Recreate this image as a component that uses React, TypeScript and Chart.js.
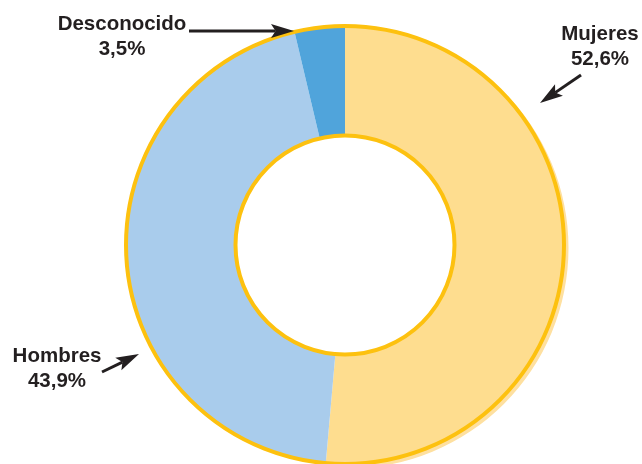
import React, { useEffect, useRef } from 'react';
import { Chart, registerables } from 'chart.js';

Chart.register(...registerables);

const categories = ['Mujeres', 'Hombres', 'Desconocido'];
// slice sizes as drawn in the picture (labels give the printed percentages)
const values = [51.4, 44.9, 3.7];
const valueLabels = ['52,6%', '43,9%', '3,5%'];
const sliceColors = ['#FEDD8F', '#A9CCEC', '#50A4DB'];
const ringColor = '#FDC10F';
const shadowColor = '#FEE0A0';
const textColor = '#231F20';

// label annotation placement: [centerX, baseline line1, baseline line2]
const labelPos = [
  [600, 40, 65],
  [57, 362, 387],
  [122, 30, 55],
];
// arrows: [fromX, fromY, toX, toY]
const arrowPos = [
  [581, 75, 540, 103],
  [102, 372, 139, 354],
  [189, 31, 294, 31],
];

function drawArrow(ctx: CanvasRenderingContext2D, x1: number, y1: number, x2: number, y2: number) {
  const ang = Math.atan2(y2 - y1, x2 - x1);
  const len = 23;
  const hw = 7;
  const bx = x2 - Math.cos(ang) * len;
  const by = y2 - Math.sin(ang) * len;
  const nx = x2 - Math.cos(ang) * len * 0.8;
  const ny = y2 - Math.sin(ang) * len * 0.8;
  ctx.save();
  ctx.strokeStyle = textColor;
  ctx.fillStyle = textColor;
  ctx.lineWidth = 3;
  ctx.beginPath();
  ctx.moveTo(x1, y1);
  ctx.lineTo(nx, ny);
  ctx.stroke();
  ctx.beginPath();
  ctx.moveTo(x2, y2);
  ctx.lineTo(bx - Math.sin(ang) * hw, by + Math.cos(ang) * hw);
  ctx.lineTo(nx, ny);
  ctx.lineTo(bx + Math.sin(ang) * hw, by - Math.cos(ang) * hw);
  ctx.closePath();
  ctx.fill();
  ctx.restore();
}

const ringPlugin = {
  id: 'ringDecor',
  beforeDatasetsDraw(chart: any) {
    const ctx: CanvasRenderingContext2D = chart.ctx;
    const meta = chart.getDatasetMeta(0);
    const a = meta.data[0];
    if (!a) return;
    const p = a.getProps(['x', 'y', 'startAngle', 'endAngle', 'outerRadius'], true);
    ctx.save();
    ctx.fillStyle = shadowColor;
    ctx.beginPath();
    ctx.arc(p.x + 3, p.y + 3, p.outerRadius + 1.5, p.startAngle, p.endAngle);
    ctx.arc(p.x + 3, p.y + 3, p.outerRadius - 12, p.endAngle, p.startAngle, true);
    ctx.closePath();
    ctx.fill();
    ctx.restore();
  },
  afterDatasetsDraw(chart: any) {
    const ctx: CanvasRenderingContext2D = chart.ctx;
    const meta = chart.getDatasetMeta(0);
    const a = meta.data[0];
    if (!a) return;
    const p = a.getProps(['x', 'y', 'outerRadius', 'innerRadius'], true);
    ctx.save();
    ctx.strokeStyle = ringColor;
    ctx.lineWidth = 4;
    ctx.beginPath();
    ctx.arc(p.x, p.y, p.outerRadius, 0, Math.PI * 2);
    ctx.stroke();
    ctx.beginPath();
    ctx.arc(p.x, p.y, p.innerRadius, 0, Math.PI * 2);
    ctx.stroke();
    ctx.restore();
  },
  afterDraw(chart: any) {
    const ctx: CanvasRenderingContext2D = chart.ctx;
    ctx.save();
    ctx.fillStyle = textColor;
    ctx.font = 'bold 20.5px "Liberation Sans", Arial, sans-serif';
    ctx.textAlign = 'center';
    ctx.textBaseline = 'alphabetic';
    categories.forEach((c, i) => {
      const [cx, b1, b2] = labelPos[i];
      ctx.fillText(c, cx, b1);
      ctx.fillText(valueLabels[i], cx, b2);
    });
    ctx.restore();
    arrowPos.forEach(([x1, y1, x2, y2]) => drawArrow(ctx, x1, y1, x2, y2));
  },
};

export default function App() {
  const ref = useRef<HTMLCanvasElement>(null);
  useEffect(() => {
    if (!ref.current) return;
    const chart = new Chart(ref.current, {
      type: 'doughnut',
      data: {
        labels: categories,
        datasets: [
          {
            data: values,
            backgroundColor: sliceColors,
            borderWidth: 0,
          },
        ],
      },
      options: {
        responsive: false,
        animation: false,
        cutout: '50%',
        layout: { padding: { left: 126, right: 78, top: 26, bottom: 0 } },
        plugins: {
          legend: { display: false },
          tooltip: { enabled: false },
        },
      },
      plugins: [ringPlugin],
    });
    return () => chart.destroy();
  }, []);
  return (
    <div style={{ position: 'fixed', left: 0, top: 0, width: 642, height: 464, background: '#fff' }}>
      <canvas ref={ref} width={642} height={464} style={{ display: 'block' }} />
    </div>
  );
}
